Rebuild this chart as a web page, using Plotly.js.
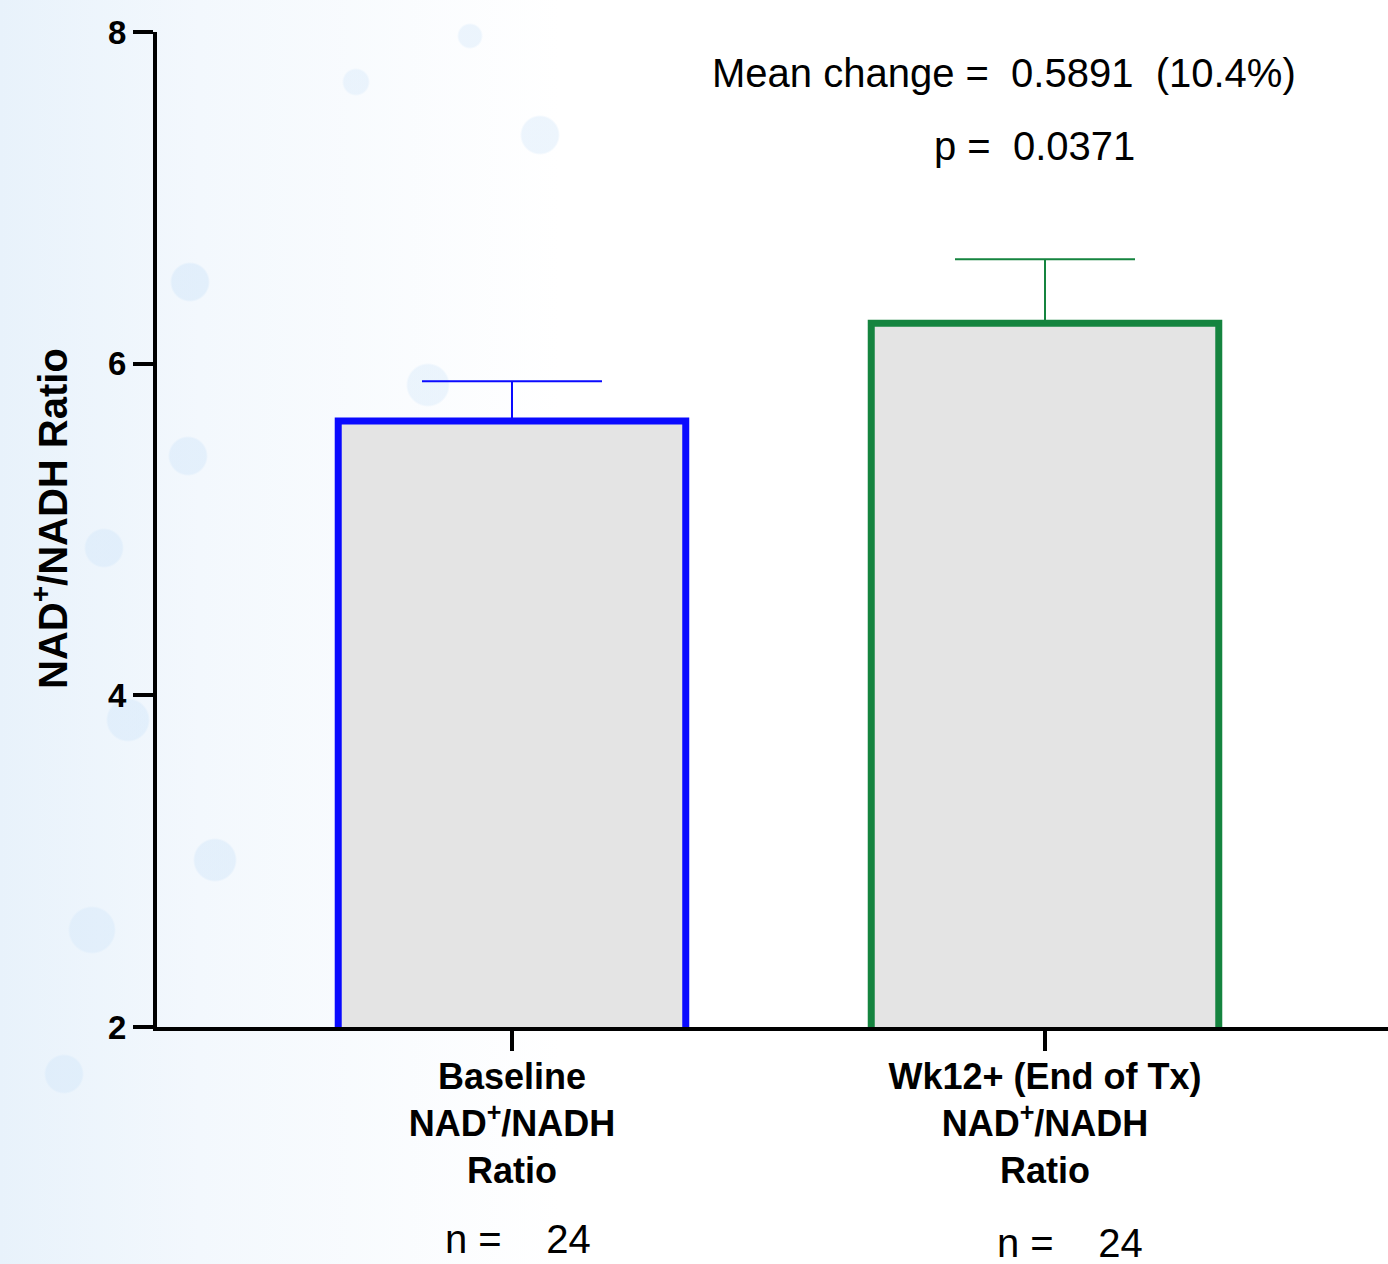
<!DOCTYPE html>
<html>
<head>
<meta charset="utf-8">
<script src="https://cdn.plot.ly/plotly-3.0.1.min.js"></script>
<style>
  html, body { margin: 0; padding: 0; }
  body {
    width: 1388px; height: 1264px; overflow: hidden;
    background:
      radial-gradient(circle at 190px 282px, rgba(215,233,250,0.6) 0 18px, rgba(255,255,255,0) 20px),
      radial-gradient(circle at 188px 456px, rgba(215,233,250,0.55) 0 18px, rgba(255,255,255,0) 20px),
      radial-gradient(circle at 104px 548px, rgba(215,233,250,0.55) 0 18px, rgba(255,255,255,0) 20px),
      radial-gradient(circle at 128px 720px, rgba(215,233,250,0.55) 0 20px, rgba(255,255,255,0) 22px),
      radial-gradient(circle at 215px 860px, rgba(215,233,250,0.55) 0 20px, rgba(255,255,255,0) 22px),
      radial-gradient(circle at 540px 135px, rgba(222,237,251,0.55) 0 18px, rgba(255,255,255,0) 20px),
      radial-gradient(circle at 356px 82px, rgba(222,237,251,0.55) 0 12px, rgba(255,255,255,0) 14px),
      radial-gradient(circle at 470px 36px, rgba(222,237,251,0.55) 0 11px, rgba(255,255,255,0) 13px),
      radial-gradient(circle at 428px 385px, rgba(222,237,251,0.55) 0 20px, rgba(255,255,255,0) 22px),
      radial-gradient(circle at 64px 1074px, rgba(215,233,250,0.55) 0 18px, rgba(255,255,255,0) 20px),
      radial-gradient(circle at 92px 930px, rgba(215,233,250,0.5) 0 22px, rgba(255,255,255,0) 24px),
      linear-gradient(90deg, rgba(232,242,251,1) 0px, rgba(243,248,253,1) 200px, rgba(255,255,255,1) 560px);
  }
  #chart { width: 1388px; height: 1264px; }
</style>
</head>
<body>
<div id="chart"></div>
<script>
// ---- data ----
const categories = [
  "Baseline<br>NAD<sup>+</sup>/NADH<br>Ratio",
  "Wk12+ (End of Tx)<br>NAD<sup>+</sup>/NADH<br>Ratio"
];
const meanValues = [5.655, 6.244];
const semValues = [0.239, 0.385];
const barColors = ["#0a0aff", "#15843f"];
const sampleSizes = [24, 24];
const yTickVals = [2, 4, 6, 8];
const meanChangeText = "Mean change =\u00a0\u00a00.5891\u00a0\u00a0(10.4%)";
const pValueText = "p =\u00a0\u00a00.0371";
const yTitleText = "<b>NAD<sup>+</sup>/NADH Ratio</b>";

const FONT = "Liberation Sans, Arial, sans-serif";
const xIdx = categories.map((_, i) => i);

const traces = xIdx.map(i => ({
  type: "bar",
  x: [i],
  y: [meanValues[i]],
  base: 0,
  width: 0.652,
  marker: { color: "#e4e4e4", line: { color: barColors[i], width: 7 } },
  error_y: {
    type: "data", symmetric: false, array: [semValues[i]], arrayminus: [0],
    visible: true, color: barColors[i], thickness: 2, width: 90
  },
  hoverinfo: "skip",
  showlegend: false,
  cliponaxis: false
}));

const nAnnots = [
  { x: -0.1295, y: -0.213 },
  { x: 0.9061, y: -0.2175 }
].map((p, i) => ({
  xref: "x", yref: "paper", x: p.x, y: p.y,
  xanchor: "left", yanchor: "middle", showarrow: false,
  text: "n =\u00a0\u00a0\u00a0\u00a0" + sampleSizes[i],
  font: { family: FONT, size: 40, color: "#000" }
}));

const layout = {
  width: 1388, height: 1264,
  margin: { l: 157, r: 0, t: 32, b: 237, pad: 0 },
  paper_bgcolor: "rgba(0,0,0,0)",
  plot_bgcolor: "rgba(0,0,0,0)",
  font: { family: FONT, color: "#000" },
  bargap: 0,
  xaxis: {
    range: [-0.666, 1.6435],
    tickmode: "array", tickvals: xIdx, ticktext: categories,
    showline: true, linecolor: "#000", linewidth: 4,
    ticks: "outside", ticklen: 20, tickwidth: 4, tickcolor: "#000",
    ticklabelstandoff: -5,
    tickfont: { family: FONT, size: 36, color: "#000", weight: "bold" },
    showgrid: false, zeroline: false, fixedrange: true, automargin: false
  },
  yaxis: {
    range: [2, 8],
    tickmode: "array", tickvals: yTickVals,
    showline: true, linecolor: "#000", linewidth: 4,
    ticks: "outside", ticklen: 20, tickwidth: 4, tickcolor: "#000",
    tickfont: { family: FONT, size: 33, color: "#000", weight: "bold" },
    showgrid: false, zeroline: false, fixedrange: true, automargin: false
  },
  annotations: [
    {
      xref: "paper", yref: "paper", x: 0.4493, y: 0.9588,
      xanchor: "left", yanchor: "middle", showarrow: false,
      text: meanChangeText,
      font: { family: FONT, size: 40, color: "#000" }
    },
    {
      xref: "paper", yref: "paper", x: 0.6296, y: 0.8854,
      xanchor: "left", yanchor: "middle", showarrow: false,
      text: pValueText,
      font: { family: FONT, size: 40, color: "#000" }
    },
    {
      xref: "paper", yref: "paper", x: -0.0869, y: 0.5106,
      xanchor: "center", yanchor: "middle", showarrow: false, textangle: -90,
      text: yTitleText,
      font: { family: FONT, size: 40, color: "#000" }
    },
    ...nAnnots
  ]
};

Plotly.newPlot("chart", traces, layout, { displayModeBar: false, staticPlot: true });
</script>
</body>
</html>
